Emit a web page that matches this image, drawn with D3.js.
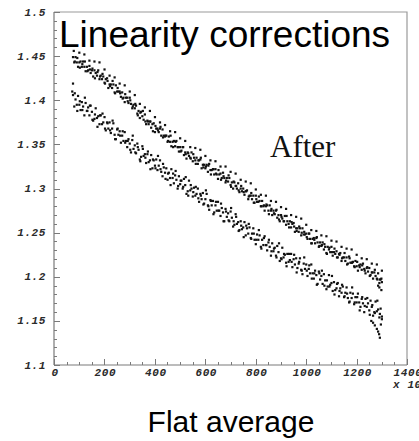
<!DOCTYPE html>
<html>
<head>
<meta charset="utf-8">
<script src="https://cdn.jsdelivr.net/npm/d3@7"></script>
<style>
  html, body { margin: 0; padding: 0; background: #fff; }
  svg { display: block; }
</style>
</head>
<body>
<svg id="chart" width="419" height="441"></svg>
<script>
// ---- data ----------------------------------------------------------------
const titleText = "Linearity corrections";
const subtitleText = "Flat average";
const noteText = "After";
const xTickValues = [0, 200, 400, 600, 800, 1000, 1200, 1400];
const yTickValues = [1.1, 1.15, 1.2, 1.25, 1.3, 1.35, 1.4, 1.45, 1.5];
const xDomain = [0, 1400];
const yDomain = [1.1, 1.5];

// upper band, dense core of points
const upperCore = [
[75,1.449],[80,1.443],[85,1.449],[90,1.443],[95,1.438],
[100,1.443],[105,1.444],[110,1.438],[115,1.444],[120,1.438],
[125,1.433],[130,1.438],[135,1.434],[140,1.439],[145,1.431],
[150,1.434],[155,1.427],[160,1.434],[165,1.431],[170,1.428],
[175,1.434],[180,1.424],[185,1.428],[190,1.424],[195,1.427],
[200,1.420],[205,1.424],[210,1.425],[215,1.414],[220,1.418],
[225,1.418],[230,1.414],[235,1.418],[240,1.409],[245,1.417],
[250,1.410],[255,1.410],[260,1.410],[265,1.404],[270,1.409],
[275,1.403],[280,1.398],[285,1.403],[290,1.403],[295,1.397],
[300,1.403],[305,1.396],[310,1.391],[315,1.395],[320,1.391],
[325,1.394],[330,1.385],[335,1.388],[340,1.380],[345,1.387],
[350,1.382],[355,1.378],[360,1.384],[365,1.373],[370,1.377],
[375,1.373],[380,1.376],[385,1.369],[390,1.373],[395,1.374],
[400,1.364],[405,1.368],[410,1.368],[415,1.364],[420,1.368],
[425,1.360],[430,1.367],[435,1.360],[440,1.359],[445,1.360],
[450,1.353],[455,1.359],[460,1.353],[465,1.348],[470,1.353],
[475,1.354],[480,1.348],[485,1.354],[490,1.347],[495,1.342],
[500,1.347],[505,1.343],[510,1.347],[515,1.338],[520,1.341],
[525,1.334],[530,1.341],[535,1.337],[540,1.335],[545,1.341],
[550,1.331],[555,1.335],[560,1.332],[565,1.335],[570,1.328],
[575,1.332],[580,1.333],[585,1.323],[590,1.327],[595,1.327],
[600,1.323],[605,1.327],[610,1.319],[615,1.328],[620,1.321],
[625,1.321],[630,1.322],[635,1.316],[640,1.322],[645,1.316],
[650,1.311],[655,1.316],[660,1.317],[665,1.312],[670,1.318],
[675,1.312],[680,1.307],[685,1.312],[690,1.308],[695,1.312],
[700,1.304],[705,1.307],[710,1.300],[715,1.307],[720,1.303],
[725,1.300],[730,1.306],[735,1.296],[740,1.300],[745,1.297],
[750,1.300],[755,1.293],[760,1.297],[765,1.298],[770,1.288],
[775,1.292],[780,1.292],[785,1.288],[790,1.292],[795,1.284],
[800,1.292],[805,1.285],[810,1.285],[815,1.286],[820,1.280],
[825,1.286],[830,1.280],[835,1.275],[840,1.280],[845,1.281],
[850,1.275],[855,1.281],[860,1.275],[865,1.270],[870,1.275],
[875,1.271],[880,1.275],[885,1.267],[890,1.270],[895,1.263],
[900,1.270],[905,1.266],[910,1.263],[915,1.269],[920,1.259],
[925,1.263],[930,1.260],[935,1.263],[940,1.256],[945,1.260],
[950,1.261],[955,1.251],[960,1.255],[965,1.255],[970,1.251],
[975,1.255],[980,1.247],[985,1.255],[990,1.248],[995,1.248],
[1000,1.249],[1005,1.243],[1010,1.249],[1015,1.243],[1020,1.238],
[1025,1.243],[1030,1.244],[1035,1.238],[1040,1.244],[1045,1.239],
[1050,1.234],[1055,1.239],[1060,1.235],[1065,1.239],[1070,1.231],
[1075,1.234],[1080,1.227],[1085,1.234],[1090,1.231],[1095,1.228],
[1100,1.234],[1105,1.224],[1110,1.228],[1115,1.226],[1120,1.229],
[1125,1.222],[1130,1.226],[1135,1.227],[1140,1.218],[1145,1.222],
[1150,1.222],[1155,1.218],[1160,1.222],[1165,1.215],[1170,1.223],
[1175,1.216],[1180,1.216],[1185,1.217],[1190,1.212],[1195,1.218],
[1200,1.212],[1205,1.207],[1210,1.213],[1215,1.214],[1220,1.208],
[1225,1.215],[1230,1.209],[1235,1.204],[1240,1.210],[1245,1.206],
[1250,1.210],[1255,1.202],[1260,1.205],[1265,1.198],[1270,1.205],
[1275,1.201],[1280,1.198],[1285,1.204],[1290,1.193],[1295,1.197],
[1300,1.194]
];

// upper band, second run of core points
const upperCoreB = [
[82,1.444],[92,1.448],[102,1.437],[112,1.441],[122,1.444],[132,1.433],
[142,1.435],[152,1.436],[162,1.425],[172,1.432],[182,1.427],[192,1.430],
[202,1.419],[212,1.422],[222,1.416],[232,1.422],[242,1.408],[252,1.414],
[262,1.408],[272,1.402],[282,1.407],[292,1.399],[302,1.400],[312,1.393],
[322,1.396],[332,1.383],[342,1.386],[352,1.388],[362,1.376],[372,1.376],
[382,1.376],[392,1.365],[402,1.371],[412,1.366],[422,1.370],[432,1.358],
[442,1.360],[452,1.354],[462,1.360],[472,1.347],[482,1.353],[492,1.347],
[502,1.342],[512,1.347],[522,1.339],[532,1.340],[542,1.334],[552,1.339],
[562,1.328],[572,1.332],[582,1.335],[592,1.324],[602,1.325],[612,1.326],
[622,1.316],[632,1.322],[642,1.317],[652,1.321],[662,1.310],[672,1.314],
[682,1.309],[692,1.315],[702,1.302],[712,1.308],[722,1.303],[732,1.298],
[742,1.303],[752,1.296],[762,1.297],[772,1.291],[782,1.295],[792,1.284],
[802,1.288],[812,1.291],[822,1.280],[832,1.281],[842,1.282],[852,1.271],
[862,1.277],[872,1.272],[882,1.276],[892,1.265],[902,1.268],[912,1.263],
[922,1.269],[932,1.256],[942,1.262],[952,1.257],[962,1.252],[972,1.257],
[982,1.250],[992,1.251],[1002,1.245],[1012,1.249],[1022,1.238],[1032,1.242],
[1042,1.245],[1052,1.235],[1062,1.236],[1072,1.237],[1082,1.226],[1092,1.233],
[1102,1.228],[1112,1.232],[1122,1.222],[1132,1.225],[1142,1.221],[1152,1.227],
[1162,1.214],[1172,1.221],[1182,1.216],[1192,1.211],[1202,1.217],[1212,1.211],
[1222,1.213],[1232,1.207],[1242,1.211],[1252,1.201],[1262,1.205],[1272,1.208],
[1282,1.197],[1292,1.197],[1298,1.198]
];

// upper band, sparse row above the core plus a few stragglers
const upperEdge = [
[78,1.456],[100,1.454],[120,1.452],[140,1.445],[160,1.444],[180,1.443],
[200,1.435],[220,1.428],[240,1.426],[260,1.419],[280,1.417],[300,1.410],
[320,1.406],[340,1.396],[360,1.392],[380,1.388],[400,1.381],[420,1.375],
[440,1.372],[460,1.365],[480,1.364],[500,1.357],[520,1.354],[540,1.347],
[560,1.346],[580,1.344],[600,1.337],[620,1.332],[640,1.331],[660,1.325],
[680,1.325],[700,1.319],[720,1.317],[740,1.310],[760,1.308],[780,1.306],
[800,1.299],[820,1.293],[840,1.292],[860,1.286],[880,1.285],[900,1.279],
[920,1.277],[940,1.270],[960,1.268],[980,1.266],[1000,1.259],[1020,1.253],
[1040,1.252],[1060,1.247],[1080,1.246],[1100,1.241],[1120,1.240],[1140,1.234],
[1160,1.232],[1180,1.231],[1200,1.225],[1220,1.221],[1240,1.220],[1260,1.215],
[1280,1.214],[1300,1.207],[1285,1.190],[1290,1.188],[1298,1.185]
];

// lower band
const lowerBand = [
[72,1.410],[75,1.419],
[75,1.406],[80,1.393],[85,1.401],[90,1.395],[95,1.405],
[100,1.395],[105,1.389],[110,1.398],[115,1.393],[120,1.383],
[125,1.397],[130,1.388],[135,1.392],[140,1.383],[145,1.394],
[150,1.387],[155,1.377],[160,1.379],[165,1.391],[170,1.380],
[175,1.382],[180,1.373],[185,1.383],[190,1.373],[195,1.375],
[200,1.381],[205,1.366],[210,1.375],[215,1.368],[220,1.375],
[225,1.363],[230,1.368],[235,1.374],[240,1.361],[245,1.356],
[250,1.367],[255,1.361],[260,1.365],[265,1.352],[270,1.360],
[275,1.354],[280,1.364],[285,1.354],[290,1.347],[295,1.356],
[300,1.351],[305,1.341],[310,1.355],[315,1.345],[320,1.349],
[325,1.340],[330,1.351],[335,1.344],[340,1.333],[345,1.336],
[350,1.348],[355,1.337],[360,1.339],[365,1.329],[370,1.339],
[375,1.330],[380,1.332],[385,1.338],[390,1.323],[395,1.332],
[400,1.326],[405,1.333],[410,1.321],[415,1.326],[420,1.332],
[425,1.319],[430,1.314],[435,1.324],[440,1.318],[445,1.323],
[450,1.310],[455,1.318],[460,1.312],[465,1.322],[470,1.312],
[475,1.306],[480,1.315],[485,1.310],[490,1.300],[495,1.314],
[500,1.305],[505,1.309],[510,1.300],[515,1.311],[520,1.304],
[525,1.294],[530,1.297],[535,1.309],[540,1.298],[545,1.300],
[550,1.291],[555,1.301],[560,1.292],[565,1.294],[570,1.300],
[575,1.285],[580,1.294],[585,1.288],[590,1.295],[595,1.283],
[600,1.288],[605,1.294],[610,1.281],[615,1.276],[620,1.287],
[625,1.281],[630,1.286],[635,1.273],[640,1.281],[645,1.275],
[650,1.285],[655,1.275],[660,1.269],[665,1.278],[670,1.273],
[675,1.263],[680,1.277],[685,1.268],[690,1.272],[695,1.263],
[700,1.274],[705,1.267],[710,1.257],[715,1.259],[720,1.271],
[725,1.260],[730,1.262],[735,1.253],[740,1.263],[745,1.254],
[750,1.256],[755,1.262],[760,1.247],[765,1.255],[770,1.249],
[775,1.256],[780,1.244],[785,1.249],[790,1.255],[795,1.242],
[800,1.237],[805,1.248],[810,1.242],[815,1.247],[820,1.234],
[825,1.242],[830,1.236],[835,1.246],[840,1.236],[845,1.230],
[850,1.239],[855,1.234],[860,1.224],[865,1.238],[870,1.229],
[875,1.233],[880,1.224],[885,1.235],[890,1.228],[895,1.218],
[900,1.221],[905,1.233],[910,1.222],[915,1.225],[920,1.216],
[925,1.226],[930,1.217],[935,1.219],[940,1.226],[945,1.211],
[950,1.220],[955,1.214],[960,1.221],[965,1.210],[970,1.215],
[975,1.221],[980,1.208],[985,1.203],[990,1.215],[995,1.209],
[1000,1.214],[1005,1.201],[1010,1.209],[1015,1.204],[1020,1.214],
[1025,1.204],[1030,1.198],[1035,1.207],[1040,1.202],[1045,1.192],
[1050,1.206],[1055,1.197],[1060,1.201],[1065,1.192],[1070,1.203],
[1075,1.196],[1080,1.186],[1085,1.189],[1090,1.202],[1095,1.191],
[1100,1.193],[1105,1.184],[1110,1.194],[1115,1.185],[1120,1.187],
[1125,1.193],[1130,1.178],[1135,1.187],[1140,1.182],[1145,1.189],
[1150,1.177],[1155,1.182],[1160,1.188],[1165,1.176],[1170,1.171],
[1175,1.182],[1180,1.176],[1185,1.181],[1190,1.169],[1195,1.177],
[1200,1.171],[1205,1.181],[1210,1.171],[1215,1.166],[1220,1.175],
[1225,1.170],[1230,1.160],[1235,1.175],[1240,1.166],[1245,1.170],
[1250,1.162],[1255,1.173],[1260,1.166],[1265,1.156],[1270,1.160],
[1275,1.172],[1280,1.161],[1285,1.163],[1290,1.154],[1295,1.164],
[1300,1.155],
[1258,1.150],[1265,1.148],[1272,1.145],[1280,1.141],[1285,1.138],
[1289,1.135],[1292,1.131],[1296,1.146],[1300,1.152]
];

// lower band, second run of points
const lowerBandB = [
[82,1.408],[92,1.388],[102,1.399],[112,1.389],[122,1.403],[132,1.388],
[142,1.394],[152,1.378],[162,1.384],[172,1.370],[182,1.383],[192,1.385],
[202,1.368],[212,1.374],[222,1.366],[232,1.377],[242,1.356],[252,1.368],
[262,1.360],[272,1.365],[282,1.352],[292,1.354],[302,1.344],[312,1.360],
[322,1.341],[332,1.347],[342,1.331],[352,1.345],[362,1.335],[372,1.342],
[382,1.322],[392,1.333],[402,1.323],[412,1.337],[422,1.322],[432,1.328],
[442,1.311],[452,1.317],[462,1.304],[472,1.317],[482,1.320],[492,1.303],
[502,1.309],[512,1.302],[522,1.313],[532,1.292],[542,1.304],[552,1.296],
[562,1.302],[572,1.289],[582,1.292],[592,1.282],[602,1.298],[612,1.280],
[622,1.286],[632,1.271],[642,1.285],[652,1.275],[662,1.283],[672,1.263],
[682,1.274],[692,1.264],[702,1.278],[712,1.263],[722,1.268],[732,1.252],
[742,1.258],[752,1.245],[762,1.258],[772,1.260],[782,1.243],[792,1.249],
[802,1.242],[812,1.253],[822,1.232],[832,1.244],[842,1.236],[852,1.242],
[862,1.229],[872,1.232],[882,1.222],[892,1.238],[902,1.220],[912,1.226],
[922,1.212],[932,1.226],[942,1.217],[952,1.225],[962,1.205],[972,1.217],
[982,1.207],[992,1.222],[1002,1.207],[1012,1.213],[1022,1.198],[1032,1.204],
[1042,1.191],[1052,1.204],[1062,1.207],[1072,1.190],[1082,1.196],[1092,1.189],
[1102,1.201],[1112,1.180],[1122,1.192],[1132,1.184],[1142,1.191],[1152,1.178],
[1162,1.181],[1172,1.172],[1182,1.188],[1192,1.171],[1202,1.177],[1212,1.162],
[1222,1.177],[1232,1.167],[1242,1.176],[1252,1.157],[1262,1.168],[1272,1.159],
[1282,1.173],[1292,1.158]
];

// ---- layout --------------------------------------------------------------
const svg = d3.select("#chart");
const plot = { left: 54, top: 12, right: 407, bottom: 365 };

const x = d3.scaleLinear().domain(xDomain).range([plot.left, plot.right]);
const y = d3.scaleLinear().domain(yDomain).range([plot.bottom, plot.top]);

const axisColor = "#7a7a7a";
const labelFont = "'Liberation Mono', 'DejaVu Sans Mono', monospace";

// frame (top and right sides)
svg.append("path")
  .attr("d", `M${plot.left},${plot.top}H${plot.right}V${plot.bottom}`)
  .attr("fill", "none")
  .attr("stroke", "#9a9a9a")
  .attr("stroke-width", 1.2);

// y axis, ticks pointing into the plot
const yMinor = d3.range(1.1, 1.5001, 0.01);
const gy = svg.append("g");
gy.append("line")
  .attr("x1", plot.left).attr("x2", plot.left)
  .attr("y1", plot.top).attr("y2", plot.bottom)
  .attr("stroke", axisColor).attr("stroke-width", 1.2);
gy.selectAll("line.minor").data(yMinor).join("line")
  .attr("class", "minor")
  .attr("x1", plot.left).attr("x2", plot.left + 3)
  .attr("y1", d => Math.round(y(d)) + 0.5).attr("y2", d => Math.round(y(d)) + 0.5)
  .attr("stroke", axisColor);
gy.selectAll("line.major").data(yTickValues).join("line")
  .attr("class", "major")
  .attr("x1", plot.left).attr("x2", plot.left + 6)
  .attr("y1", d => Math.round(y(d)) + 0.5).attr("y2", d => Math.round(y(d)) + 0.5)
  .attr("stroke", axisColor);
gy.selectAll("text").data(yTickValues).join("text")
  .attr("x", 46)
  .attr("y", d => y(d) + 3.5)
  .attr("text-anchor", "end")
  .attr("font-family", labelFont)
  .attr("font-weight", "bold")
  .attr("font-style", "italic")
  .attr("font-size", 11)
  .attr("letter-spacing", 0.6)
  .attr("fill", "#2a2a2a")
  .text(d => d3.format("")(+d.toFixed(2)));

// x axis, ticks pointing up
const xMinor = d3.range(0, 1401, 50);
const gx = svg.append("g");
gx.append("line")
  .attr("x1", plot.left).attr("x2", plot.right)
  .attr("y1", plot.bottom).attr("y2", plot.bottom)
  .attr("stroke", axisColor).attr("stroke-width", 1.2);
gx.selectAll("line.minor").data(xMinor).join("line")
  .attr("class", "minor")
  .attr("x1", d => Math.round(x(d)) + 0.5).attr("x2", d => Math.round(x(d)) + 0.5)
  .attr("y1", plot.bottom).attr("y2", plot.bottom - 3)
  .attr("stroke", axisColor);
gx.selectAll("line.major").data(xTickValues).join("line")
  .attr("class", "major")
  .attr("x1", d => Math.round(x(d)) + 0.5).attr("x2", d => Math.round(x(d)) + 0.5)
  .attr("y1", plot.bottom).attr("y2", plot.bottom - 6)
  .attr("stroke", axisColor);
gx.selectAll("text").data(xTickValues).join("text")
  .attr("x", d => x(d) + 1)
  .attr("y", 376)
  .attr("text-anchor", "middle")
  .attr("font-family", labelFont)
  .attr("font-weight", "bold")
  .attr("font-style", "italic")
  .attr("font-size", 11)
  .attr("letter-spacing", 0.6)
  .attr("fill", "#2a2a2a")
  .text(d => d);

// axis multiplier
const mult = svg.append("text")
  .attr("x", 393).attr("y", 388)
  .attr("font-family", labelFont)
  .attr("font-weight", "bold")
  .attr("font-style", "italic")
  .attr("font-size", 11)
  .attr("letter-spacing", 0.6)
  .attr("fill", "#2a2a2a");
mult.append("tspan").text("x 10");
mult.append("tspan").attr("dy", -4).attr("font-size", 8).text("3");

// scatter points
const pts = svg.append("g").attr("fill", "#111");
[upperCore, upperCoreB, upperEdge, lowerBand, lowerBandB].forEach(series => {
  pts.append("g").selectAll("rect").data(series).join("rect")
    .attr("x", d => x(d[0]) - 1)
    .attr("y", d => y(d[1]) - 1)
    .attr("width", 2.2)
    .attr("height", 2.2);
});

// texts
svg.append("text")
  .attr("x", 59).attr("y", 47)
  .attr("font-family", "'Liberation Sans', Arial, sans-serif")
  .attr("font-size", 37)
  .attr("fill", "#000")
  .text(titleText);

svg.append("text")
  .attr("x", 270).attr("y", 157)
  .attr("font-family", "'Liberation Serif', 'Times New Roman', serif")
  .attr("font-size", 31)
  .attr("fill", "#111")
  .text(noteText);

svg.append("text")
  .attr("x", 231).attr("y", 432)
  .attr("text-anchor", "middle")
  .attr("font-family", "'Liberation Sans', Arial, sans-serif")
  .attr("font-size", 30)
  .attr("fill", "#000")
  .text(subtitleText);
</script>
</body>
</html>
